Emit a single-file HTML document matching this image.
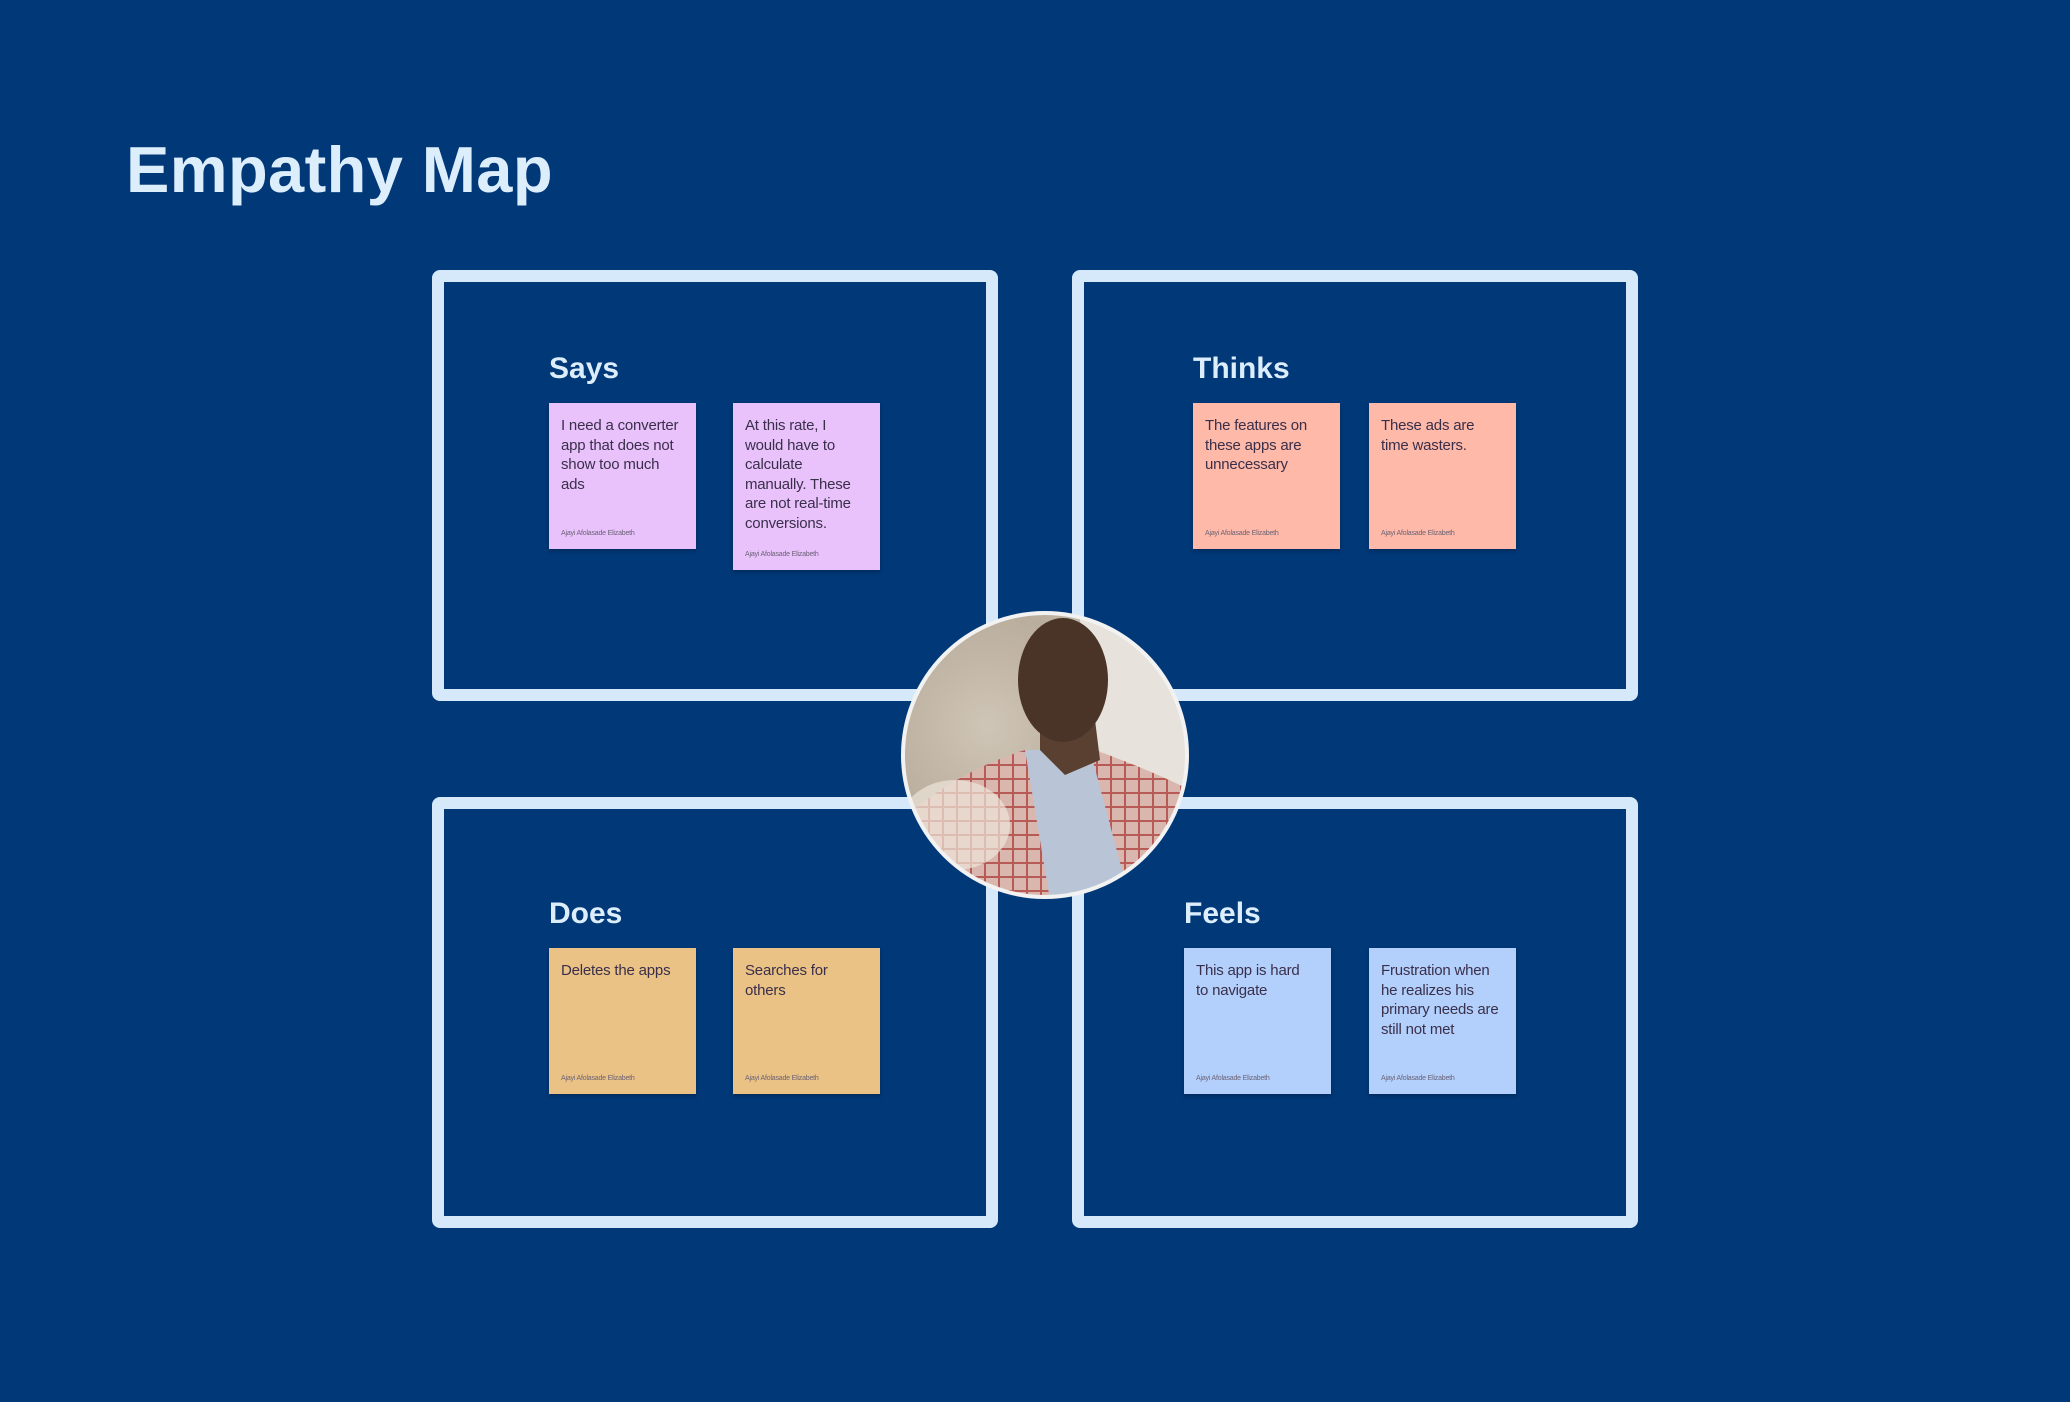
<!DOCTYPE html>
<html><head><meta charset="utf-8"><style>
*{margin:0;padding:0;box-sizing:border-box}
body{width:2070px;height:1402px;background:#013878;position:relative;overflow:hidden;font-family:"Liberation Sans",sans-serif}
.title{position:absolute;left:126px;top:132px;font-size:65px;font-weight:bold;color:#dcedfc;letter-spacing:0.4px}
.box{position:absolute;width:566px;height:431px;border:12px solid #d6e9fb;border-radius:8px}
.h{position:absolute;font-size:30px;font-weight:bold;color:#dcedfc}
.n{position:absolute;width:147px;padding:13px 4px 0 12px;font-size:15px;line-height:19.6px;letter-spacing:-0.2px;color:#3a2f4a;box-shadow:0 2px 4px rgba(0,0,0,.25);white-space:nowrap}
.n .a{position:absolute;left:12px;bottom:5px;font-size:7px;color:#6b6275;white-space:nowrap}
.p{background:#e9c2fc}.o{background:#feb9a8}.y{background:#eac285}.b{background:#b3d0fc}
</style></head><body>
<div class="title">Empathy Map</div>
<div class="box" style="left:432px;top:270px"></div>
<div class="box" style="left:1072px;top:270px"></div>
<div class="box" style="left:432px;top:797px"></div>
<div class="box" style="left:1072px;top:797px"></div>

<div class="h" style="left:549px;top:352px">Says</div>
<div class="h" style="left:1193px;top:352px">Thinks</div>
<div class="h" style="left:549px;top:897px">Does</div>
<div class="h" style="left:1184px;top:897px">Feels</div>

<div class="n p" style="left:549px;top:403px;height:146px">I need a converter<br>app that does not<br>show too much<br>ads<div class="a">Ajayi Afolasade Elizabeth</div></div>
<div class="n p" style="left:733px;top:403px;height:167px">At this rate, I<br>would have to<br>calculate<br>manually. These<br>are not real-time<br>conversions.<div class="a">Ajayi Afolasade Elizabeth</div></div>
<div class="n o" style="left:1193px;top:403px;height:146px">The features on<br>these apps are<br>unnecessary<div class="a">Ajayi Afolasade Elizabeth</div></div>
<div class="n o" style="left:1369px;top:403px;height:146px">These ads are<br>time wasters.<div class="a">Ajayi Afolasade Elizabeth</div></div>
<div class="n y" style="left:549px;top:948px;height:146px">Deletes the apps<div class="a">Ajayi Afolasade Elizabeth</div></div>
<div class="n y" style="left:733px;top:948px;height:146px">Searches for<br>others<div class="a">Ajayi Afolasade Elizabeth</div></div>
<div class="n b" style="left:1184px;top:948px;height:146px">This app is hard<br>to navigate<div class="a">Ajayi Afolasade Elizabeth</div></div>
<div class="n b" style="left:1369px;top:948px;height:146px">Frustration when<br>he realizes his<br>primary needs are<br>still not met<div class="a">Ajayi Afolasade Elizabeth</div></div>

<svg style="position:absolute;left:900px;top:610px" width="290" height="290" viewBox="0 0 290 290">
<defs>
<clipPath id="c"><circle cx="145" cy="145" r="141"/></clipPath>
<radialGradient id="bg" cx="0.3" cy="0.4" r="0.8"><stop offset="0" stop-color="#cfc5b6"/><stop offset="0.5" stop-color="#b9ad9c"/><stop offset="1" stop-color="#e6e2da"/></radialGradient>
<pattern id="pl" width="14" height="14" patternUnits="userSpaceOnUse"><rect width="14" height="14" fill="#d9b6ae"/><rect width="14" height="2" fill="#b85a56"/><rect width="2" height="14" fill="#b85a56"/></pattern>
</defs>
<g clip-path="url(#c)">
<rect width="290" height="290" fill="url(#bg)"/>
<rect x="180" width="110" height="290" fill="#e7e3dc"/>
<path d="M0 210 Q60 160 125 140 L195 140 Q250 160 290 180 L290 290 L0 290Z" fill="url(#pl)"/>
<path d="M125 140 L190 140 L230 290 L150 290Z" fill="#b9c5d6"/>
<path d="M140 110 L195 110 L200 150 L165 165 L140 140Z" fill="#5a4030"/>
<ellipse cx="163" cy="70" rx="45" ry="62" fill="#4a3428"/>
<ellipse cx="55" cy="215" rx="55" ry="45" fill="#ece6da" opacity="0.7"/>
</g>
<circle cx="145" cy="145" r="142" fill="none" stroke="#f2f2f2" stroke-width="4"/>
</svg>
</body></html>
